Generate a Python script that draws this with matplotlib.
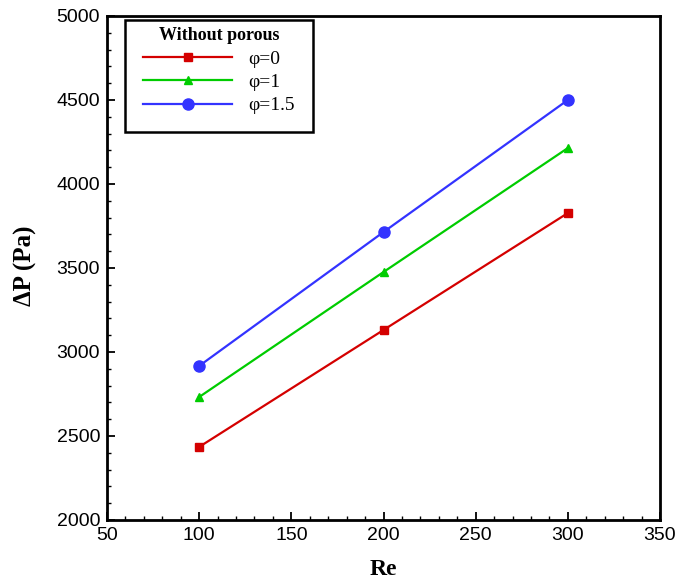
import matplotlib
matplotlib.use("Agg")
import matplotlib.pyplot as plt
from matplotlib.patches import Rectangle
from matplotlib.ticker import MultipleLocator

# pressure drop vs Reynolds number, no porous layer
re = [100, 200, 300]
dp_phi0 = [2435, 3131, 3827]
dp_phi1 = [2732, 3476, 4214]
dp_phi15 = [2917, 3714, 4500]
labels = ["φ=0", "φ=1", "φ=1.5"]

fig = plt.figure(figsize=(6.93, 5.81), dpi=100)
ax = fig.add_axes([0.1544, 0.105, 0.798, 0.8675])

ax.plot(re, dp_phi0, color="#d40000", marker="s", markersize=6, linewidth=1.6, label=labels[0])
ax.plot(re, dp_phi1, color="#00cc00", marker="^", markersize=6, linewidth=1.6, label=labels[1])
ax.plot(re, dp_phi15, color="#3333ff", marker="o", markersize=8, linewidth=1.6, label=labels[2])

ax.set_xlim(50, 350)
ax.set_ylim(2000, 5000)
ax.xaxis.set_major_locator(MultipleLocator(50))
ax.xaxis.set_minor_locator(MultipleLocator(10))
ax.yaxis.set_major_locator(MultipleLocator(500))
ax.yaxis.set_minor_locator(MultipleLocator(100))
ax.tick_params(which="both", direction="in", top=False, right=False)
ax.tick_params(which="major", length=6, width=1.3)
ax.tick_params(which="minor", length=3, width=1)
for lab in ax.get_xticklabels() + ax.get_yticklabels():
    lab.set_family("Liberation Sans")
    lab.set_fontsize(14)
ax.tick_params(axis="x", pad=5)
ax.tick_params(axis="y", pad=5)
for sp in ax.spines.values():
    sp.set_linewidth(2)

ax.set_xlabel("Re", family="Liberation Serif", fontweight="bold", fontsize=17, labelpad=11)
ax.set_ylabel("ΔP (Pa)", family="Liberation Serif", fontweight="bold", fontsize=18)
ax.yaxis.set_label_coords(-0.127, 0.505)

# legend without its own frame; the box is drawn separately
leg = ax.legend(loc="upper left", bbox_to_anchor=(0.0651, 0.978), title="Without porous",
                prop={"family": "Liberation Serif", "size": 14}, frameon=False,
                handlelength=4.6, borderpad=0, labelspacing=0.3, handletextpad=0.8,
                borderaxespad=0)
leg.get_title().set_fontproperties({"family": "Liberation Serif", "weight": "bold", "size": 13})
ax.add_patch(Rectangle((0.0326, 0.7698), 0.3399, 0.2222, transform=ax.transAxes,
                       fill=False, edgecolor="black", linewidth=1.8, zorder=5))

fig.savefig("out.png", dpi=100)
